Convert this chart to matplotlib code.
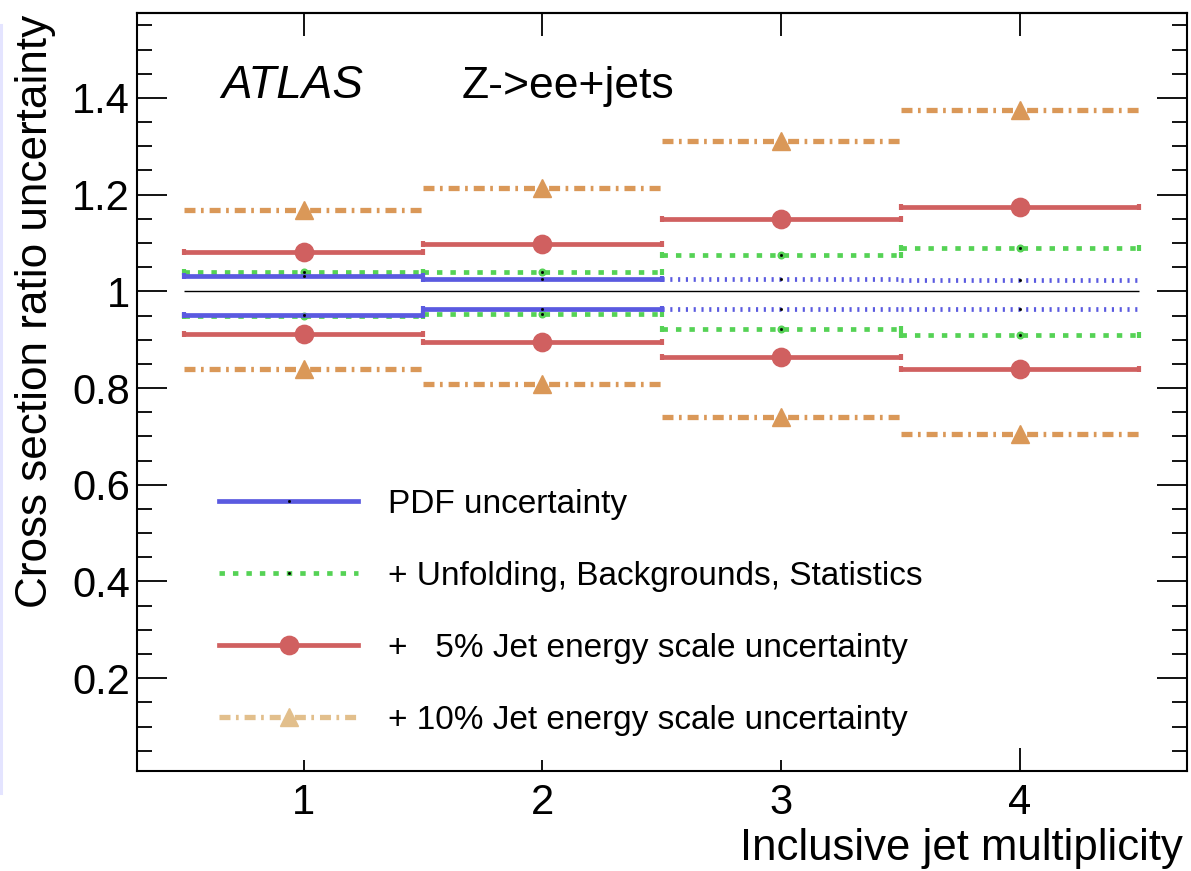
import matplotlib
matplotlib.use("Agg")
import matplotlib.pyplot as plt
import numpy as np
from matplotlib.ticker import MultipleLocator, FixedLocator, FuncFormatter, NullLocator
from matplotlib.lines import Line2D

plt.rcParams['font.family'] = ['Liberation Sans', 'DejaVu Sans']

# ---------------- data ----------------
mult = [1, 2, 3, 4]
pdf_up = [1.031, 1.025, 1.025, 1.024]
pdf_dn = [0.951, 0.963, 0.963, 0.963]
unf_up = [1.041, 1.039, 1.075, 1.089]
unf_dn = [0.948, 0.953, 0.922, 0.910]
jes5_up = [1.082, 1.098, 1.149, 1.175]
jes5_dn = [0.911, 0.896, 0.864, 0.840]
jes10_up = [1.168, 1.214, 1.310, 1.376]
jes10_dn = [0.839, 0.809, 0.740, 0.705]
x_tick_labels = ['1', '2', '3', '4']
legend_labels = ['PDF uncertainty',
                 '+ Unfolding, Backgrounds, Statistics',
                 '+   5% Jet energy scale uncertainty',
                 '+ 10% Jet energy scale uncertainty']

# ---------------- style ----------------
BLUE = '#5a5ae0'
GREEN = '#55d255'
RED = '#d06060'
ORANGE = '#da9858'
ORANGE_LEG = '#e2bf8c'
LW = 3.4
LW_OR = 3.8
GREEN_LS = (0, (1.15, 1.7))
BLUE_DOT = (0, (0.45, 1.2))
ORANGE_LS = (0, (2.08, 1.04, 0.51, 1.13))

fig = plt.figure(figsize=(11.91, 8.71), dpi=100)
ax = fig.add_axes([0.1148, 0.1148, 0.8818, 0.8699])

x = np.array(mult, dtype=float)
half = 0.5
lo = x - half
hi = x + half


def draw_band(y, color, lw, ls, marker=None, ms=0, caps=False, z=2, idx=None):
    y = np.asarray(y, dtype=float)
    sel = np.arange(len(x)) if idx is None else np.asarray(idx)
    ax.hlines(y[sel], lo[sel], hi[sel], colors=color, linewidths=lw,
              linestyles=[ls], zorder=z)
    if caps:
        ax.plot(np.r_[lo[sel], hi[sel]], np.r_[y[sel], y[sel]], ls='none',
                marker='|', ms=4.6, mew=3.0, color=color, zorder=z)
    if marker:
        ax.plot(x[sel], y[sel], ls='none', marker=marker, ms=ms, color=color,
                mec=color, zorder=z + 0.1)


# reference line at 1
ax.hlines(1.0, lo[0], hi[-1], colors='black', linewidths=1.0, zorder=1)

# 10% JES (orange)
for yv in (jes10_up, jes10_dn):
    draw_band(yv, ORANGE, LW_OR, ORANGE_LS, marker='^', ms=13.5, z=2)
# 5% JES (red)
for yv in (jes5_up, jes5_dn):
    draw_band(yv, RED, LW, '-', marker='o', ms=13.2, caps=True, z=3)
# unfolding etc (green)
for yv in (unf_up, unf_dn):
    draw_band(yv, GREEN, LW, GREEN_LS, marker='o', ms=4.8, caps=True, z=4)
    ax.plot(x, yv, ls='none', marker='s', ms=1.0, color='black', zorder=4.5)
# PDF (blue): solid in first two bins, dotted afterwards
solid_idx = [i for i, m in enumerate(mult) if m <= 2]
dotted_idx = [i for i, m in enumerate(mult) if m > 2]
for yv in (pdf_up, pdf_dn):
    draw_band(yv, BLUE, LW, '-', caps=True, z=5, idx=solid_idx)
    draw_band(yv, BLUE, LW, BLUE_DOT, z=5, idx=dotted_idx)
    ax.plot(x, yv, ls='none', marker='s', ms=1.0, color='black', zorder=5.5)

# ---------------- axes ----------------
ax.set_xlim(0.3, 4.7)
ax.set_ylim(0.008, 1.575)

fmt = FuncFormatter(lambda v, p: f'{v:g}')
ax.yaxis.set_major_locator(MultipleLocator(0.2))
ax.yaxis.set_minor_locator(MultipleLocator(0.05))
ax.yaxis.set_major_formatter(fmt)
ax.tick_params(axis='y', which='major', direction='in', length=21.5, width=1.3,
               left=True, right=True, labelsize=30, pad=5)
ax.tick_params(axis='y', which='minor', direction='in', length=11, width=1.3,
               left=True, right=True)

tick_pos = [float(t) for t in x_tick_labels]
ax.xaxis.set_major_locator(FixedLocator(tick_pos[-1:]))
ax.xaxis.set_minor_locator(FixedLocator(tick_pos[:-1]))
ax.xaxis.set_major_formatter(fmt)
ax.xaxis.set_minor_formatter(fmt)
ax.tick_params(axis='x', which='major', direction='in', length=16.5, width=1.3,
               bottom=True, top=False, labelsize=30, pad=8.5)
ax.tick_params(axis='x', which='minor', direction='in', length=8, width=1.3,
               bottom=True, top=False, labelsize=30, pad=8.5)

sec = ax.secondary_xaxis('top')
sec.set_xticks(tick_pos)
sec.xaxis.set_minor_locator(NullLocator())
sec.tick_params(axis='x', direction='in', length=16.5, width=1.3, labeltop=False)
sec.spines['top'].set_linewidth(1.5)

for s in ax.spines.values():
    s.set_linewidth(1.5)

# ---------------- texts ----------------
ax.text(0.656, 1.400, 'ATLAS', style='italic', fontsize=33, ha='left', va='baseline')
ax.text(1.663, 1.400, 'Z->ee+jets', fontsize=32, ha='left', va='baseline')

fig.text(1183 / 1191, 1 - 860 / 871, 'Inclusive jet multiplicity',
         ha='right', va='baseline', fontsize=31.5)
fig.text(36 / 1191, 1 - 15 / 871, 'Cross section ratio uncertainty',
         rotation=90, ha='center', va='top', fontsize=31.8)

# faint artifact line on the left edge
fig.add_artist(Line2D([0.0012, 0.0012], [1 - 25 / 871, 1 - 793 / 871],
                      transform=fig.transFigure, color='#e4e4ff', lw=2.2))

# ---------------- legend ----------------
handles = [
    Line2D([], [], color=BLUE, lw=LW, marker='s', ms=1.0, mfc='k', mec='k'),
    Line2D([], [], color=GREEN, lw=LW, ls=GREEN_LS, marker='s', ms=1.0, mfc='k', mec='k'),
    Line2D([], [], color=RED, lw=LW, marker='o', ms=13.2),
    Line2D([], [], color=ORANGE_LEG, lw=LW_OR, ls=ORANGE_LS, marker='^', ms=13.5),
]
leg = ax.legend(handles, legend_labels, loc='upper left',
                bbox_to_anchor=(0.0784, 0.3725), frameon=False, fontsize=24,
                handlelength=4.17, handletextpad=0.9, labelspacing=1.23,
                borderpad=0, borderaxespad=0, numpoints=1)

fig.savefig('out.png', dpi=100)
